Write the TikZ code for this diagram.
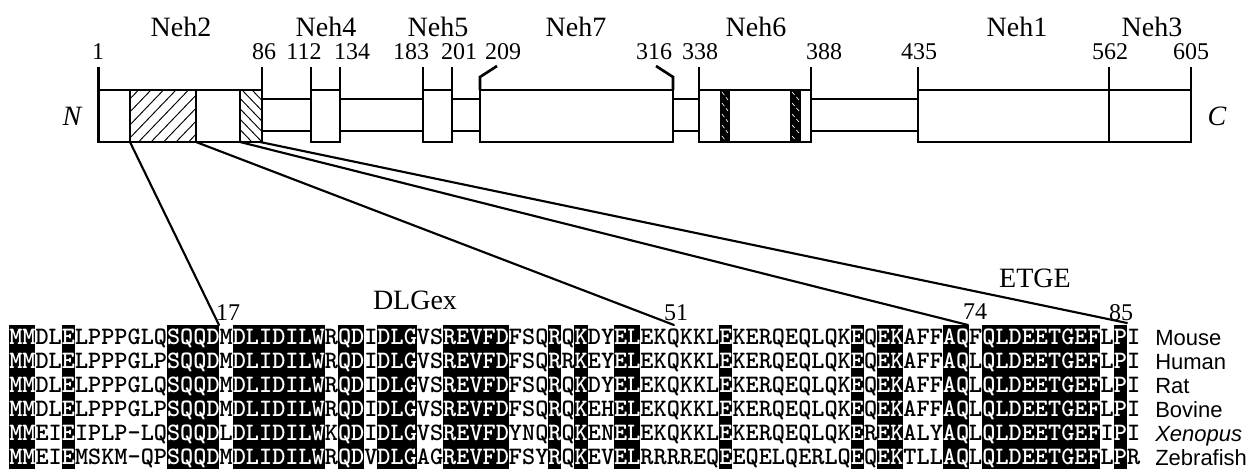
\documentclass[tikz,border=0pt]{standalone}
\usepackage{fontspec}
\setmainfont{Liberation Serif}
\setsansfont{Liberation Sans}
\usepackage{xstring}
\tikzset{
  barline/.style={line width=2pt, line join=miter},
  link/.style={line width=1.6pt, line cap=round},
  hatch/.style={line width=0.7pt},
  domlab/.style={inner sep=0pt, font=\fontsize{21}{24}\selectfont},
  numlab/.style={inner sep=0pt, font=\fontsize{18}{20}\selectfont},
  seqtxt/.style={inner sep=0pt, anchor=base west, font=\fontsize{18.786}{20}\selectfont\ttfamily\bfseries},
  spec/.style={inner sep=0pt, anchor=base west, font=\fontsize{16.5}{18}\selectfont\sffamily},
}
\newcommand\runlist{1/2/1,3/4/0,5/5/1,6/12/0,13/16/1,17/17/0,18/24/1,25/25/0,26/27/1,28/28/0,29/31/1,32/33/0,34/38/1,39/41/0,42/42/1,43/43/0,44/44/1,45/46/0,47/48/1,49/54/0,55/55/1,56/64/0,65/65/1,66/66/0,67/68/1,69/71/0,72/73/1,74/74/0,75/83/1,84/84/0,85/85/1,86/86/0}
\begin{document}
\begin{tikzpicture}[x=0.75pt,y=-0.75pt]
\useasboundingbox (0,0) rectangle (1253,470);

% ---------- domain bar ----------
% linker
\draw[barline, fill=white] (262,99) rectangle (918,131);
% domain boxes
\draw[barline, fill=white] (98.7,90) rectangle (262,142);
\draw[barline, fill=white] (311,90) rectangle (340,142);
\draw[barline, fill=white] (423,90) rectangle (452,142);
\draw[barline, fill=white] (480,90) rectangle (673,142);
\draw[barline, fill=white] (699,90) rectangle (811,142);
\draw[barline, fill=white] (918,90) rectangle (1109,142);
\draw[barline, fill=white] (1109,90) rectangle (1191,142);

% hatched motif boxes in Neh2
\begin{scope}
  \clip (130,90) rectangle (196,142);
  \foreach \k in {0,...,9} \draw[hatch] (76+12.5*\k,142) -- (126+12.5*\k,90);
\end{scope}
\begin{scope}
  \clip (240,90) rectangle (262,142);
  \foreach \k in {0,...,7} \draw[hatch] (192+10*\k,90) -- (242+10*\k,142);
\end{scope}
\draw[barline] (130,90) -- (130,142) (196,90) -- (196,142) (240,90) -- (240,142);

% black stripes in Neh6
\fill (720,90) rectangle (730,142);
\fill (790,90) rectangle (801,142);
\begin{scope}
  \clip (720,90) rectangle (730,142) (790,90) rectangle (801,142);
  \foreach \k in {0,...,4} {
    \draw[white, line width=0.5pt, dash pattern=on 3pt off 2pt] (722,92+11*\k) -- (728,100+11*\k);
    \draw[white, line width=0.5pt, dash pattern=on 3pt off 2pt] (792,92+11*\k) -- (799,100+11*\k);
  }
\end{scope}
\draw[barline] (699,90) rectangle (811,142);

% ticks
\foreach \x in {98.7,262,311,340,423,452,699,811,918,1109,1191}
  \draw[barline] (\x,67) -- (\x,90);
\draw[barline] (480,90) -- (480,77) -- (497,66);
\draw[barline] (673,90) -- (673,77) -- (656,66);

% position numbers
\foreach \x/\t in {98/1,264/86,304/112,352/134,411/183,459/201,503/209,654/316,700/338,824/388,919/435,1110/562,1191/605}
  \node[numlab] (p\t) at (\x,52) {\t};

% domain names
\foreach \x/\t in {181/Neh2,326/Neh4,438/Neh5,576/Neh7,756/Neh6,1017/Neh1,1152/Neh3}
  \node[domlab] (d\t) at (\x,27) {\t};

\node[domlab, font=\fontsize{21}{24}\selectfont\itshape] (nterm) at (72,116) {N};
\node[domlab, font=\fontsize{21}{24}\selectfont\itshape] (cterm) at (1217,116) {C};

% ---------- connectors ----------
\coordinate (a1) at (130,142);
\coordinate (a2) at (196,142);
\coordinate (a3) at (240,142);
\coordinate (a4) at (260,142);
\coordinate (e17) at (219,325);
\coordinate (e51) at (674,325);
\coordinate (e74) at (968,325);
\coordinate (e85) at (1127,323);
\draw[link] (a1) -- (e17);
\draw[link] (a2) -- (e51);
\draw[link] (a3) -- (e74);
\draw[link] (a4) -- (e85);

\node[numlab] (n17) at (228,313) {17};
\node[numlab] (n51) at (676,313) {51};
\node[numlab] (n74) at (975,312) {74};
\node[numlab] (n85) at (1121,313) {85};
\node[domlab] (dlgex) at (415,300) {DLGex};
\node[domlab] (etge) at (1035,278) {ETGE};

% ---------- alignment ----------
\foreach \s/\e/\b in \runlist {
  \ifnum\b=1\relax
    \fill (9+13.15*\s-13.15,325) rectangle (9+13.15*\e,469);
  \fi
}
\foreach \r/\seq in {
  1/MMDLELPPPGLQSQQDMDLIDILWRQDIDLGVSREVFDFSQRQKDYELEKQKKLEKERQEQLQKEQEKAFFAQFQLDEETGEFLPI,
  2/MMDLELPPPGLPSQQDMDLIDILWRQDIDLGVSREVFDFSQRRKEYELEKQKKLEKERQEQLQKEQEKAFFAQLQLDEETGEFLPI,
  3/MMDLELPPPGLQSQQDMDLIDILWRQDIDLGVSREVFDFSQRQKDYELEKQKKLEKERQEQLQKEQEKAFFAQLQLDEETGEFLPI,
  4/MMDLELPPPGLPSQQDMDLIDILWRQDIDLGVSREVFDFSQRQKEHELEKQKKLEKERQEQLQKEQEKAFFAQLQLDEETGEFLPI,
  5/MMEIEIPLP-LQSQQDLDLIDILWKQDIDLGVSREVFDYNQRQKENELEKQKKLEKERQEQLQKEREKALYAQLQLDEETGEFIPI,
  6/MMEIEMSKM-QPSQQDMDLIDILWRQDVDLGAGREVFDFSYRQKEVELRRRREQEEQELQERLQEQEKTLLAQLQLDEETGEFLPR} {
  \pgfmathsetmacro\yb{337+24*(\r-1)+7.5}
  \foreach \s/\e/\b in \runlist {
    \StrMid{\seq}{\s}{\e}[\piece]
    \ifnum\b=1\relax\def\tc{white}\else\def\tc{black}\fi
    \node[seqtxt, text=\tc] (q\r-\s) at (9+13.15*\s-13.15,\yb) {\piece};
  }
}
\foreach \r/\t in {1/Mouse,2/Human,3/Rat,4/Bovine,6/Zebrafish}
  \node[spec] (sp\r) at (1155,337+24*\r-24+8) {\t};
\node[spec, font=\fontsize{16.5}{18}\selectfont\sffamily\itshape] (sp5) at (1155,337+96+8) {Xenopus};
\end{tikzpicture}
\end{document}
